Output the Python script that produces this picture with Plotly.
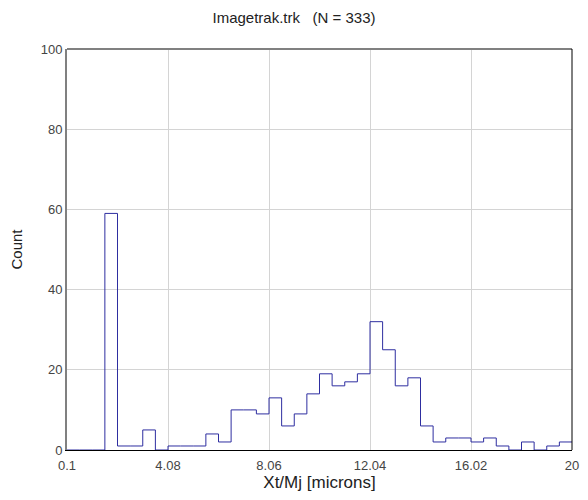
import numpy as np
import plotly.graph_objects as go

# Histogram of Xt/Mj, 40 equal bins over [0.1, 20]
x_min = 0.1
x_max = 20.0
counts = [0, 0, 0, 59, 1, 1, 5, 0, 1, 1,
          1, 4, 2, 10, 10, 9, 13, 6, 9, 14,
          19, 16, 17, 19, 32, 25, 16, 18, 6, 2,
          3, 3, 2, 3, 1, 0, 2, 0, 1, 2]
x_ticks = [0.1, 4.08, 8.06, 12.04, 16.02, 20]
x_tick_labels = ["0.1", "4.08", "8.06", "12.04", "16.02", "20"]
y_ticks = [0, 20, 40, 60, 80, 100]

n_bins = len(counts)
edges = np.linspace(x_min, x_max, n_bins + 1)
step_y = counts + [counts[-1]]

font_family = "Liberation Sans, Arial, sans-serif"

fig = go.Figure()
fig.add_trace(go.Scatter(
    x=edges, y=step_y, mode="lines", line_shape="hv",
    line=dict(color="#2e2ea0", width=1), hoverinfo="skip", showlegend=False,
))

fig.update_layout(
    width=588, height=500,
    margin=dict(l=67, r=9, t=49, b=50),
    paper_bgcolor="white", plot_bgcolor="white",
    font=dict(family=font_family, color="#333333"),
    title=dict(text="Imagetrak.trk\u00a0\u00a0\u00a0(N = 333)", x=0.5, xanchor="center",
               y=0.965, yanchor="middle", font=dict(size=15, color="#222222")),
    xaxis=dict(range=[x_min, x_max], tickvals=x_ticks, ticktext=x_tick_labels,
               showgrid=True, gridcolor="#d4d4d4", gridwidth=1, zeroline=False,
               showline=True, linecolor="black", linewidth=1, ticks="",
               ticklabelstandoff=3,
               tickfont=dict(size=13, color="#444444"),
               title=dict(text="Xt/Mj [microns]", font=dict(size=17, color="#222222"), standoff=3)),
    yaxis=dict(range=[0, 100], tickvals=y_ticks,
               showgrid=True, gridcolor="#d4d4d4", gridwidth=1, zeroline=False,
               showline=True, linecolor="#808080", linewidth=2, ticks="",
               tickfont=dict(size=13, color="#444444"),
               title=dict(text="Count", font=dict(size=15, color="#222222"), standoff=14)),
    shapes=[
        dict(type="line", xref="paper", yref="paper", x0=0, x1=1, y0=1, y1=1,
             line=dict(color="#808080", width=2)),
        dict(type="line", xref="paper", yref="paper", x0=1, x1=1, y0=0, y1=1,
             line=dict(color="black", width=1)),
    ],
)

fig.write_html("out.html")
